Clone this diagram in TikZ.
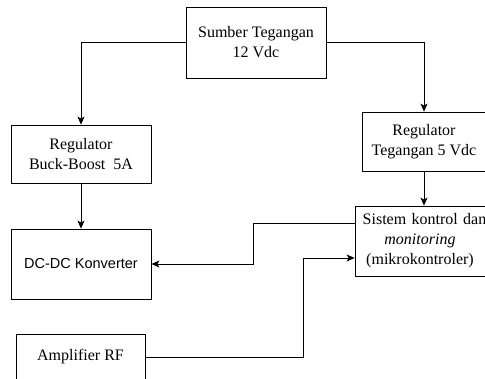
\documentclass[tikz,border=0pt]{standalone}
\usepackage{fontspec}
\setmainfont{Liberation Serif}
\newfontfamily\arialfont{Liberation Sans}
\usetikzlibrary{arrows.meta}
\begin{document}
\begin{tikzpicture}[x=1pt,y=1pt,
  block/.style={draw,line width=0.8pt,align=center,font=\fontsize{16}{20}\selectfont,inner sep=0pt},
  arr/.style={line width=0.8pt,-{Stealth[length=8pt,width=7pt,inset=2pt]}},
  wire/.style={line width=0.8pt}]
\useasboundingbox (0,0) rectangle (485,-378);
\clip (0,0) rectangle (485,-378);
% blocks
\node[block,minimum width=140,minimum height=71] (src) at (256,-42.5) {Sumber Tegangan\\12 Vdc};
\node[block,minimum width=140,minimum height=58] (buck) at (81,-154) {Regulator\\Buck-Boost\ \ 5A};
\node[block,minimum width=124,minimum height=59] (reg5) at (424,-141.5) {Regulator\\Tegangan 5 Vdc};
\node[block,minimum width=130,minimum height=70,text width=130] (mcu) at (420,-241) {\hspace*{9pt}\makebox[0pt]{Sistem kontrol dan}\\\textit{monitoring}\\(mikrokontroler)};
\node[block,minimum width=140,minimum height=70,font=\arialfont\fontsize{14.5}{17}\selectfont] (dcdc) at (81,-264) {DC-DC Konverter};
\node[block,minimum width=129,minimum height=46] (amp) at (80.5,-357) {Amplifier RF};
% connectors
\draw[arr] (src.west) -| (buck.north);
\draw[arr] (src.east) -| (reg5.north);
\draw[arr] (buck.south) -- (dcdc.north);
\draw[arr] (reg5.south) -- (reg5.south |- mcu.north);
\coordinate (c1) at (253,-223);
\draw[arr] ([yshift=18pt]mcu.west) -- (c1) |- (dcdc.east);
\coordinate (c2) at (303,-357);
\draw[arr] (amp.east) -- (c2) |- ([yshift=-17pt]mcu.west);
\end{tikzpicture}
\end{document}
